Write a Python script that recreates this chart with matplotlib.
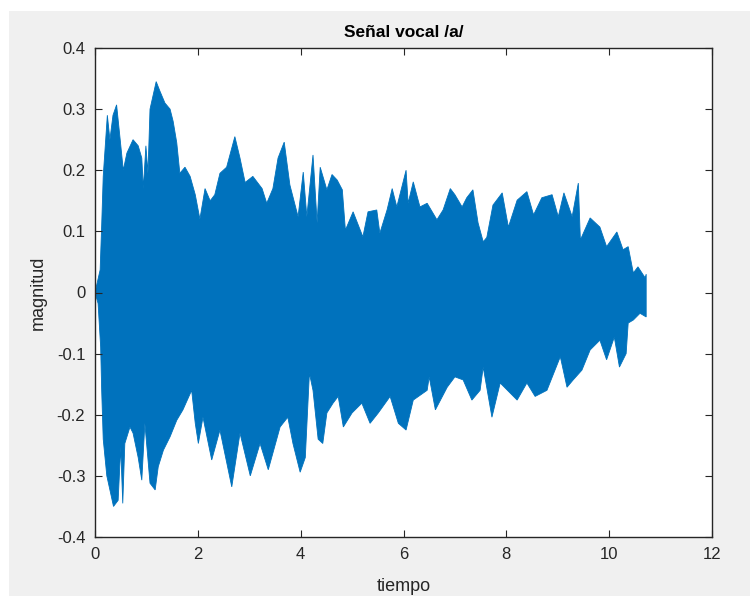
import numpy as np
import matplotlib.pyplot as plt
from matplotlib.patches import Rectangle

t_upper = [0, 0.1, 0.13, 0.16, 0.24, 0.29, 0.35, 0.42, 0.49, 0.55, 0.62, 0.74, 0.84, 0.91,
           0.94, 0.99, 1.03, 1.07, 1.19, 1.26, 1.36, 1.46, 1.52, 1.59, 1.65, 1.75, 1.85, 1.95,
           2.04, 2.14, 2.24, 2.33, 2.43, 2.56, 2.72, 2.82, 2.92, 3.07, 3.25, 3.34, 3.46, 3.56,
           3.68, 3.79, 3.95, 4.05, 4.12, 4.24, 4.32, 4.38, 4.51, 4.61, 4.71, 4.81, 4.87, 5.02,
           5.21, 5.31, 5.48, 5.54, 5.68, 5.78, 5.87, 6.05, 6.09, 6.19, 6.32, 6.46, 6.65, 6.77,
           6.91, 7.0, 7.14, 7.23, 7.35, 7.45, 7.55, 7.62, 7.74, 7.92, 8.04, 8.21, 8.4, 8.53,
           8.69, 8.89, 9.01, 9.12, 9.28, 9.4, 9.44, 9.63, 9.82, 9.95, 10.15, 10.27, 10.37,
           10.47, 10.56, 10.7, 10.72]
upper = [0.0, 0.037, 0.11, 0.19, 0.29, 0.25, 0.29, 0.307, 0.25, 0.20, 0.228, 0.25, 0.24, 0.22,
         0.17, 0.24, 0.195, 0.30, 0.345, 0.33, 0.31, 0.30, 0.28, 0.245, 0.195, 0.205, 0.19, 0.16,
         0.12, 0.17, 0.15, 0.16, 0.195, 0.205, 0.255, 0.22, 0.18, 0.19, 0.17, 0.146, 0.17, 0.22,
         0.246, 0.176, 0.124, 0.197, 0.124, 0.225, 0.114, 0.205, 0.168, 0.193, 0.184, 0.168, 0.102, 0.132,
         0.091, 0.132, 0.135, 0.097, 0.135, 0.17, 0.14, 0.2, 0.146, 0.181, 0.14, 0.146, 0.119, 0.135,
         0.17, 0.16, 0.14, 0.155, 0.168, 0.114, 0.083, 0.09, 0.143, 0.163, 0.107, 0.151, 0.165, 0.127,
         0.155, 0.16, 0.124, 0.163, 0.124, 0.179, 0.086, 0.122, 0.107, 0.075, 0.099, 0.07, 0.075,
         0.032, 0.042, 0.024, 0.03]

t_lower = [0, 0.06, 0.11, 0.13, 0.16, 0.23, 0.29, 0.36, 0.45, 0.5, 0.54, 0.58, 0.68, 0.74,
           0.84, 0.91, 0.97, 1.07, 1.17, 1.23, 1.33, 1.46, 1.59, 1.71, 1.88, 1.95, 2.01, 2.1,
           2.27, 2.43, 2.66, 2.82, 3.02, 3.21, 3.37, 3.6, 3.75, 3.85, 3.99, 4.09, 4.17, 4.24,
           4.34, 4.43, 4.51, 4.63, 4.73, 4.83, 5.0, 5.19, 5.35, 5.51, 5.74, 5.9, 6.05, 6.19,
           6.46, 6.5, 6.62, 6.85, 7.0, 7.16, 7.33, 7.49, 7.55, 7.72, 7.88, 8.21, 8.4, 8.56,
           8.79, 9.05, 9.18, 9.3, 9.47, 9.63, 9.82, 9.95, 10.1, 10.2, 10.33, 10.37, 10.47,
           10.6, 10.72]
lower = [0, -0.018, -0.089, -0.16, -0.24, -0.30, -0.323, -0.35, -0.34, -0.253, -0.345, -0.247, -0.22, -0.23,
         -0.27, -0.307, -0.214, -0.312, -0.323, -0.285, -0.258, -0.236, -0.209, -0.192, -0.16, -0.214, -0.247, -0.204,
         -0.274, -0.225, -0.318, -0.23, -0.30, -0.247, -0.29, -0.22, -0.204, -0.247, -0.294, -0.27, -0.132, -0.16,
         -0.24, -0.247, -0.197, -0.181, -0.17, -0.22, -0.197, -0.181, -0.214, -0.197, -0.17, -0.214, -0.225, -0.176,
         -0.16, -0.138, -0.192, -0.155, -0.138, -0.143, -0.176, -0.16, -0.122, -0.204, -0.148, -0.176, -0.148, -0.17,
         -0.16, -0.105, -0.155, -0.143, -0.127, -0.094, -0.078, -0.11, -0.073, -0.122, -0.1, -0.05, -0.045,
         -0.034, -0.04]

x_ticks = [0, 2, 4, 6, 8, 10, 12]
y_ticks = [-0.4, -0.3, -0.2, -0.1, 0, 0.1, 0.2, 0.3, 0.4]
y_labels = ["-0.4", "-0.3", "-0.2", "-0.1", "0", "0.1", "0.2", "0.3", "0.4"]

plt.rcParams["font.family"] = ["Liberation Sans", "DejaVu Sans"]

fig = plt.figure(figsize=(7.5, 5.96), dpi=100, facecolor="white")
# MATLAB style grey figure window, slightly inset
fig.patches.append(Rectangle((9 / 750, 0), 1, 1 - 11 / 596, transform=fig.transFigure,
                             facecolor="#f0f0f0", edgecolor="none", zorder=-10))

ax = fig.add_axes([95 / 750, 1 - 537 / 596, 617 / 750, 489 / 596])
ax.set_facecolor("white")

blue = "#0072BD"
xs = np.concatenate([t_upper, t_lower[::-1]])
ys = np.concatenate([upper, lower[::-1]])
ax.fill(xs, ys, color=blue, linewidth=0.6, edgecolor=blue)

ax.set_xlim(0, 12)
ax.set_ylim(-0.4, 0.4)
ax.set_xticks(x_ticks)
ax.set_yticks(y_ticks)
ax.set_xticklabels([str(v) for v in x_ticks])
ax.set_yticklabels(y_labels)

ax.tick_params(direction="in", top=True, right=True, length=5, width=0.8,
               colors="#262626", labelsize=12, pad=7)
for s in ax.spines.values():
    s.set_color("#262626")
    s.set_linewidth(1.0)

ax.set_title("Señal vocal /a/", fontsize=12.5, fontweight="bold", pad=8)
ax.set_xlabel("tiempo", fontsize=13, color="#262626")
ax.set_ylabel("magnitud", fontsize=13, color="#262626")
ax.xaxis.set_label_coords(0.5, -0.084)
ax.yaxis.set_label_coords(-0.078, 0.5)

fig.savefig("out.png", dpi=100)
